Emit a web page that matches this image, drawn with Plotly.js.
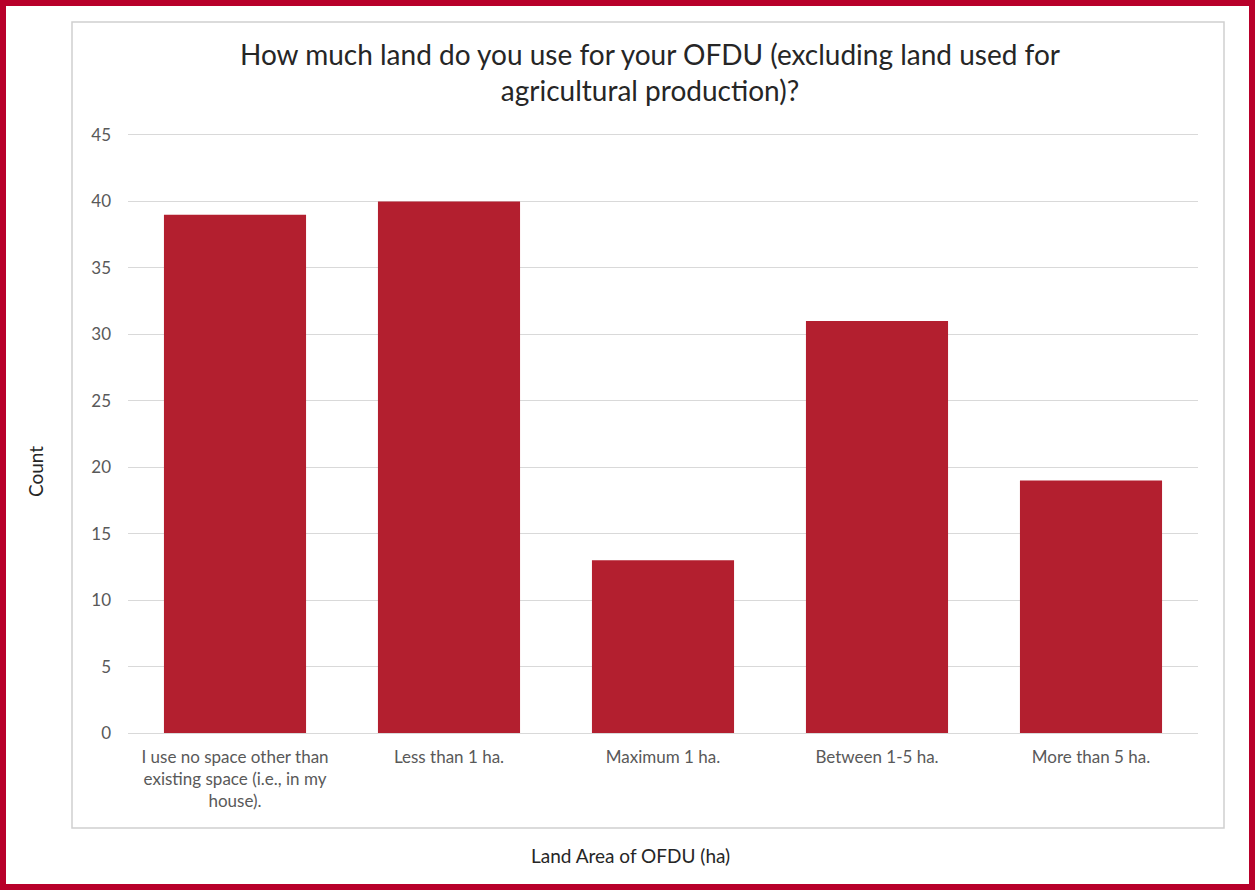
<!DOCTYPE html>
<html>
<head>
<meta charset="utf-8">
<script src="https://cdn.plot.ly/plotly-3.0.1.min.js"></script>
<style>
html,body{margin:0;padding:0;background:#fff;}
#chart{width:1255px;height:890px;}
</style>
</head>
<body>
<div id="chart"></div>
<script>
const categories = [
  "I use no space other than<br>existing space (i.e., in my<br>house).",
  "Less than 1 ha.",
  "Maximum 1 ha.",
  "Between 1-5 ha.",
  "More than 5 ha."
];
const counts = [39, 40, 13, 31, 19];
const yTicks = [0, 5, 10, 15, 20, 25, 30, 35, 40, 45];

const W = 1255, H = 890;
const L = 128, R = 57, T = 131, B = 157;
const pw = W - L - R, ph = H - T - B;
const px = v => (v - L) / pw;
const py = v => (H - B - v) / ph;

const FONT = "Lato, 'Open Sans', sans-serif";

const data = [{
  type: 'bar',
  x: categories,
  y: counts,
  marker: {color: '#B31F2F', line: {width: 0}},
  hoverinfo: 'x+y'
}];

const layout = {
  width: W, height: H,
  margin: {l: L, r: R, t: T, b: B, pad: 0},
  paper_bgcolor: '#ffffff',
  plot_bgcolor: '#ffffff',
  font: {family: FONT, color: '#595959', size: 16},
  showlegend: false,
  bargap: 0.336,
  title: {
    text: "How much land do you use for your OFDU (excluding land used for<br>agricultural production)?",
    font: {family: FONT, size: 28, color: '#262626'},
    xref: 'container', x: 650 / W, xanchor: 'center',
    yref: 'container', y: 1 - 65 / H, yanchor: 'top'
  },
  xaxis: {
    type: 'category',
    showgrid: false,
    showline: false,
    zeroline: false,
    ticks: '',
    ticklabelstandoff: 12,
    tickfont: {family: FONT, size: 17, color: '#595959'},
    fixedrange: true
  },
  yaxis: {
    range: [0, 45.3],
    tickvals: yTicks,
    ticktext: yTicks.map(String),
    showgrid: true,
    gridcolor: '#d9d9d9',
    gridwidth: 1,
    zeroline: true,
    zerolinecolor: '#d9d9d9',
    zerolinewidth: 1,
    showline: false,
    ticks: '',
    ticklabelstandoff: 16,
    tickfont: {family: FONT, size: 17, color: '#595959'},
    fixedrange: true
  },
  annotations: [
    {text: 'Count', xref: 'paper', yref: 'paper', x: px(35), y: py(472),
     textangle: -90, showarrow: false, xanchor: 'center', yanchor: 'middle',
     font: {family: FONT, size: 19, color: '#262626'}},
    {text: 'Land Area of OFDU (ha)', xref: 'paper', yref: 'paper', x: px(630), y: py(855),
     showarrow: false, xanchor: 'center', yanchor: 'middle',
     font: {family: FONT, size: 19, color: '#262626'}}
  ],
  shapes: [
    {type: 'rect', xref: 'paper', yref: 'paper',
     x0: px(72), x1: px(1224), y0: py(828), y1: py(22),
     line: {color: '#d0d0d0', width: 1.5}, fillcolor: 'rgba(0,0,0,0)', layer: 'below'},
    {type: 'rect', xref: 'paper', yref: 'paper',
     x0: px(3), x1: px(1252), y0: py(887), y1: py(3),
     line: {color: '#B8002A', width: 6}, fillcolor: 'rgba(0,0,0,0)'}
  ]
};

Plotly.newPlot('chart', data, layout, {displayModeBar: false, staticPlot: true});
</script>
</body>
</html>
